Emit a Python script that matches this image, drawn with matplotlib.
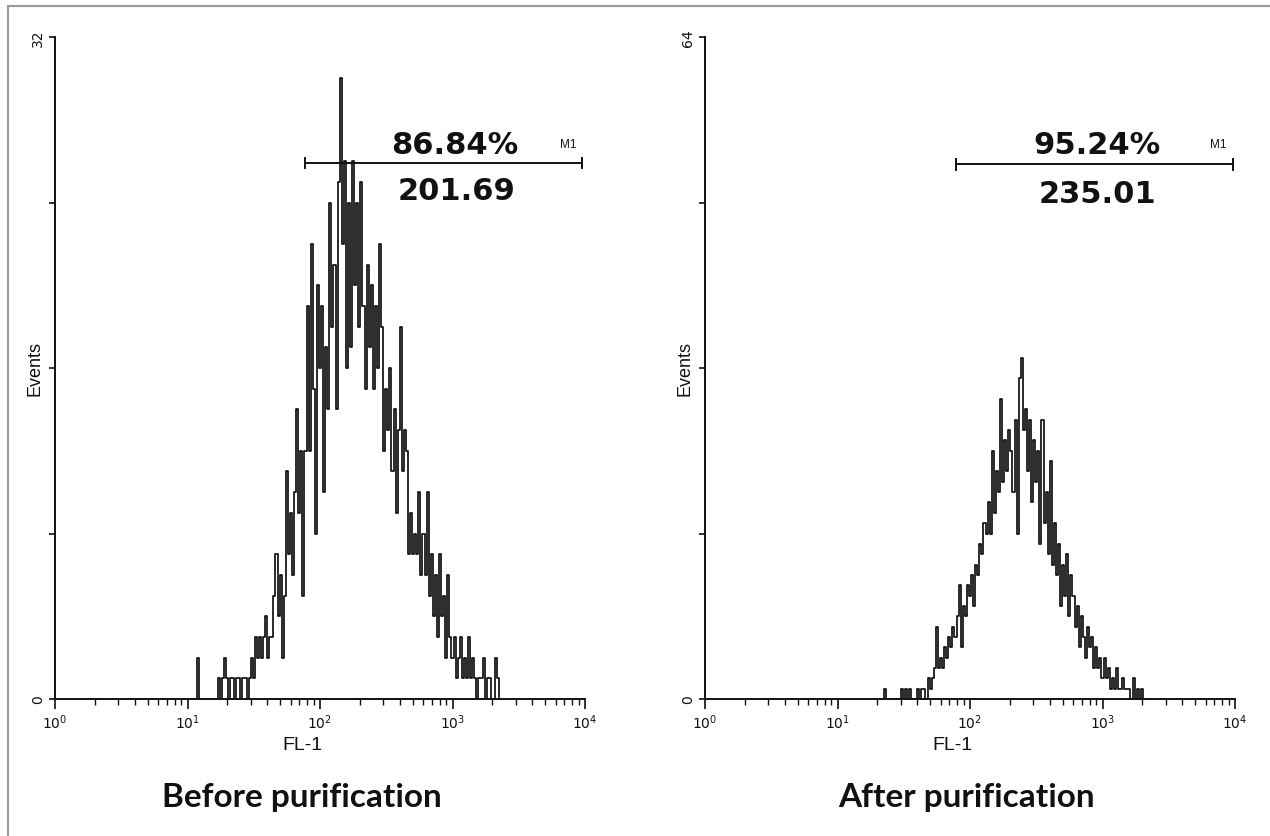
import numpy as np
import matplotlib
matplotlib.use("Agg")
import matplotlib.pyplot as plt
from matplotlib.lines import Line2D
from matplotlib.ticker import LogLocator, FixedLocator, FixedFormatter, NullFormatter

# ---------------- data ----------------
CHANNELS_PER_DECADE = 64  # 256-channel log scale over 4 decades

left_title = "Before purification"
left_start_channel = 68
left_counts = [
    0, 2, 0, 0, 0, 0, 0, 0, 0, 0, 0, 1, 0, 1, 2, 1, 0, 1, 1, 0,
    1, 1, 0, 1, 1, 0, 1, 2, 1, 3, 2, 3, 2, 3, 4, 2, 3, 3, 5, 7,
    4, 6, 2, 5, 11, 7, 9, 6, 10, 14, 9, 12, 5, 12, 19, 12, 22, 15, 8, 20,
    16, 19, 10, 17, 14, 24, 18, 21, 14, 25, 30, 22, 26, 16, 24, 17, 26, 20, 24, 18,
    25, 19, 15, 21, 17, 20, 15, 19, 16, 22, 18, 12, 15, 13, 16, 11, 14, 9, 13, 18,
    11, 13, 12, 7, 9, 7, 8, 7, 10, 6, 8, 6, 10, 5, 7, 4, 6, 3, 7, 4,
    5, 2, 6, 3, 2, 3, 1, 2, 3, 1, 2, 1, 3, 1, 2, 1, 0, 1, 1, 2,
    0, 1, 1, 0, 0, 2, 1, 0,
]
left_ymax = 32
left_pct = "86.84%"
left_mean = "201.69"
left_gate = (77, 9490)
left_gate_level = 25.9

right_title = "After purification"
right_start_channel = 86
right_counts = [
    0, 1, 0, 0, 0, 0, 0, 0, 0, 1, 0, 1, 0, 1, 0, 0, 0, 1, 0, 1,
    1, 0, 2, 1, 2, 3, 7, 3, 4, 3, 5, 4, 6, 5, 7, 6, 8, 11, 5, 9,
    8, 11, 10, 12, 9, 13, 12, 15, 14, 17, 16, 19, 16, 24, 18, 22, 20, 29, 21, 25,
    22, 26, 24, 20, 27, 16, 31, 33, 26, 28, 22, 27, 19, 25, 21, 24, 15, 27, 17, 20,
    14, 23, 13, 17, 12, 15, 9, 13, 10, 14, 8, 12, 10, 7, 9, 5, 8, 6, 4, 7,
    5, 6, 3, 5, 3, 4, 2, 4, 2, 3, 1, 2, 1, 3, 1, 1, 2, 1, 1, 1,
    0, 2, 0, 1, 0, 1, 0,
]
right_ymax = 64
right_pct = "95.24%"
right_mean = "235.01"
right_gate = (78, 9660)
right_gate_level = 51.7

xlabel = "FL-1"
ylabel = "Events"

# ---------------- figure ----------------
W, H = 1270, 837
fig = plt.figure(figsize=(W / 100, H / 100), dpi=100)
fig.patch.set_facecolor("white")

plt.rcParams["mathtext.default"] = "regular"

def px_rect(x0, y0, x1, y1):
    return [x0 / W, 1 - y1 / H, (x1 - x0) / W, (y1 - y0) / H]

ax_l = fig.add_axes(px_rect(55, 38, 585, 700))
ax_r = fig.add_axes(px_rect(705, 38, 1235, 700))

panels = [
    (ax_l, left_start_channel, left_counts, left_ymax, left_pct, left_mean,
     left_gate, left_gate_level, left_title, (0.755, 0.838), (0.757, 0.768), 0.466),
    (ax_r, right_start_channel, right_counts, right_ymax, right_pct, right_mean,
     right_gate, right_gate_level, right_title, (0.740, 0.838), (0.740, 0.763), 0.494),
]

for (ax, start, counts, ymax, pct, mean, gate, glevel, title, ppos, mpos, tx) in panels:
    ch = np.arange(start, start + len(counts))
    x = 10 ** (ch / CHANNELS_PER_DECADE)
    ax.plot(x, counts, drawstyle="steps-mid", color="#101010", lw=1.25)

    ax.set_xscale("log")
    ax.set_xlim(1, 1e4)
    ax.set_ylim(0, ymax)

    for s in ["top", "right"]:
        ax.spines[s].set_visible(False)
    for s in ["left", "bottom"]:
        ax.spines[s].set_linewidth(1.4)
        ax.spines[s].set_color("#111111")

    ax.xaxis.set_major_locator(LogLocator(base=10, numticks=10))
    ax.xaxis.set_minor_locator(LogLocator(base=10, subs=np.arange(2, 10), numticks=20))
    ax.xaxis.set_minor_formatter(NullFormatter())
    ax.tick_params(axis="x", which="major", length=7, width=1.2, direction="out",
                   labelsize=10, pad=3, colors="#111111")
    ax.tick_params(axis="x", which="minor", length=4, width=1.0, direction="out",
                   colors="#111111")

    yt = [0, ymax / 4, ymax / 2, 3 * ymax / 4, ymax]
    ax.yaxis.set_major_locator(FixedLocator(yt))
    ax.yaxis.set_major_formatter(FixedFormatter([str(0), "", "", "", str(ymax)]))
    ax.tick_params(axis="y", which="major", length=4, width=1.2, direction="out",
                   labelsize=10, pad=3, colors="#111111")
    for lab in ax.get_yticklabels():
        lab.set_rotation(90)
        lab.set_va("center")

    # M1 gate marker
    ax.plot([gate[0], gate[1]], [glevel, glevel], color="#111111", lw=1.4)
    for gx in gate:
        ax.plot([gx, gx], [glevel - ymax * 0.008, glevel + ymax * 0.008],
                color="#111111", lw=1.4)

    ax.text(ppos[0], ppos[1], pct, transform=ax.transAxes, ha="center", va="center",
            fontsize=22, fontweight="bold", family="DejaVu Sans", color="#111111")
    ax.text(mpos[0], mpos[1], mean, transform=ax.transAxes, ha="center", va="center",
            fontsize=22, fontweight="bold", family="DejaVu Sans", color="#111111")
    ax.text(0.968, 0.838, "M1", transform=ax.transAxes, ha="center", va="center",
            fontsize=8.5, family="Liberation Sans", color="#111111")

    ax.text(-0.038, 0.5, ylabel, transform=ax.transAxes, rotation=90, ha="center",
            va="center", fontsize=13, family="Liberation Sans", color="#111111")
    ax.text(0.466, -0.068, xlabel, transform=ax.transAxes, ha="center", va="center",
            fontsize=14, family="Liberation Sans", color="#111111")
    ax.text(tx, -0.147, title, transform=ax.transAxes,
            ha="center", va="center", fontsize=24, fontweight="bold", family="Lato",
            color="#111111")

# outer gray frame (top and left)
fig.add_artist(Line2D([8 / W, 1], [1 - 7 / H, 1 - 7 / H], transform=fig.transFigure,
                      color="#9a9a9a", lw=1.5))
fig.add_artist(Line2D([8 / W, 8 / W], [0, 1 - 7 / H], transform=fig.transFigure,
                      color="#9a9a9a", lw=1.5))

fig.savefig("out.png", dpi=100, facecolor="white")
